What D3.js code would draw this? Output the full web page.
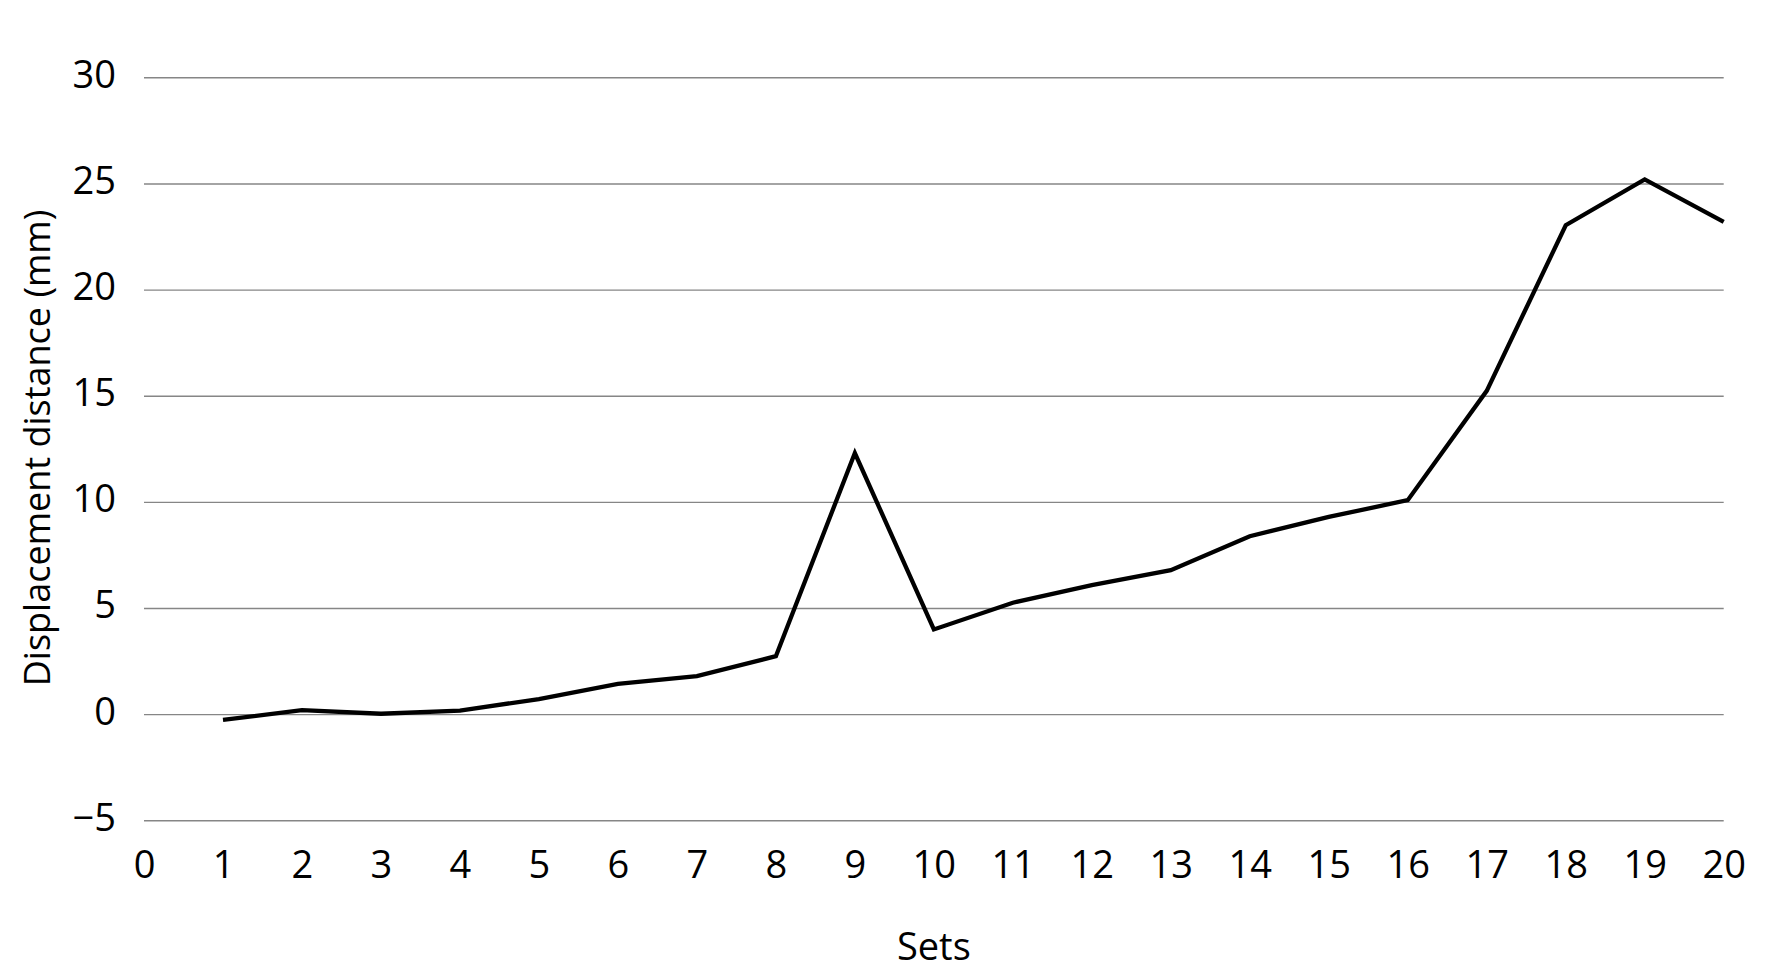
<!DOCTYPE html>
<html>
<head>
<meta charset="utf-8">
<script src="https://cdn.jsdelivr.net/npm/d3@7"></script>
<style>
  body { margin: 0; background: #fff; }
  svg { display: block; }
  .axis text { font-family: "Open Sans", sans-serif; font-size: 38px; fill: #000; }
  .title { font-family: "Open Sans", sans-serif; font-size: 38px; fill: #000; }
</style>
</head>
<body>
<svg id="chart" width="1773" height="978"></svg>
<script>
// values
const sets = [1, 2, 3, 4, 5, 6, 7, 8, 9, 10, 11, 12, 13, 14, 15, 16, 17, 18, 19, 20];
const displacement = [-0.27, 0.19, 0.02, 0.17, 0.71, 1.43, 1.79, 2.73, 12.3, 3.99,
  5.25, 6.08, 6.78, 8.38, 9.29, 10.08, 15.23, 23.03, 25.19, 23.19];
const xTicks = d3.range(0, 21);
const yTicks = [-5, 0, 5, 10, 15, 20, 25, 30];

const svg = d3.select("#chart");
const margin = { top: 77.3, right: 49.3, bottom: 157.7, left: 144 };
const width = 1773 - margin.left - margin.right;
const height = 978 - margin.top - margin.bottom;

const g = svg.append("g").attr("transform", `translate(${margin.left},${margin.top})`);

const x = d3.scaleLinear().domain([0, 20]).range([0, width]);
const y = d3.scaleLinear().domain([-5, 30]).range([height, 0]);

// horizontal gridlines + y labels
const yAxis = g.append("g")
  .attr("class", "axis")
  .call(d3.axisLeft(y).tickValues(yTicks).tickSize(-width).tickPadding(28).tickFormat(d3.format("d")));
yAxis.select(".domain").remove();
yAxis.selectAll("line").attr("stroke", "#868686").attr("stroke-width", 1.4);
yAxis.selectAll("text").attr("dy", "0.26em");

// x labels, no line
const xAxis = g.append("g")
  .attr("class", "axis")
  .attr("transform", `translate(0,${height})`)
  .call(d3.axisBottom(x).tickValues(xTicks).tickSize(0).tickPadding(31).tickFormat(d3.format("d")));
xAxis.select(".domain").remove();

// the series
const line = d3.line()
  .x((d, i) => x(sets[i]))
  .y(d => y(d));

g.append("path")
  .datum(displacement)
  .attr("fill", "none")
  .attr("stroke", "#000")
  .attr("stroke-width", 4.3)
  .attr("stroke-linejoin", "miter")
  .attr("d", line);

// axis titles
svg.append("text")
  .attr("class", "title")
  .attr("x", margin.left + width / 2)
  .attr("y", 960)
  .attr("text-anchor", "middle")
  .text("Sets");

svg.append("text")
  .attr("class", "title")
  .style("font-size", "36px")
  .attr("transform", `translate(50,448) rotate(-90)`)
  .attr("text-anchor", "middle")
  .text("Displacement distance (mm)");
</script>
</body>
</html>
